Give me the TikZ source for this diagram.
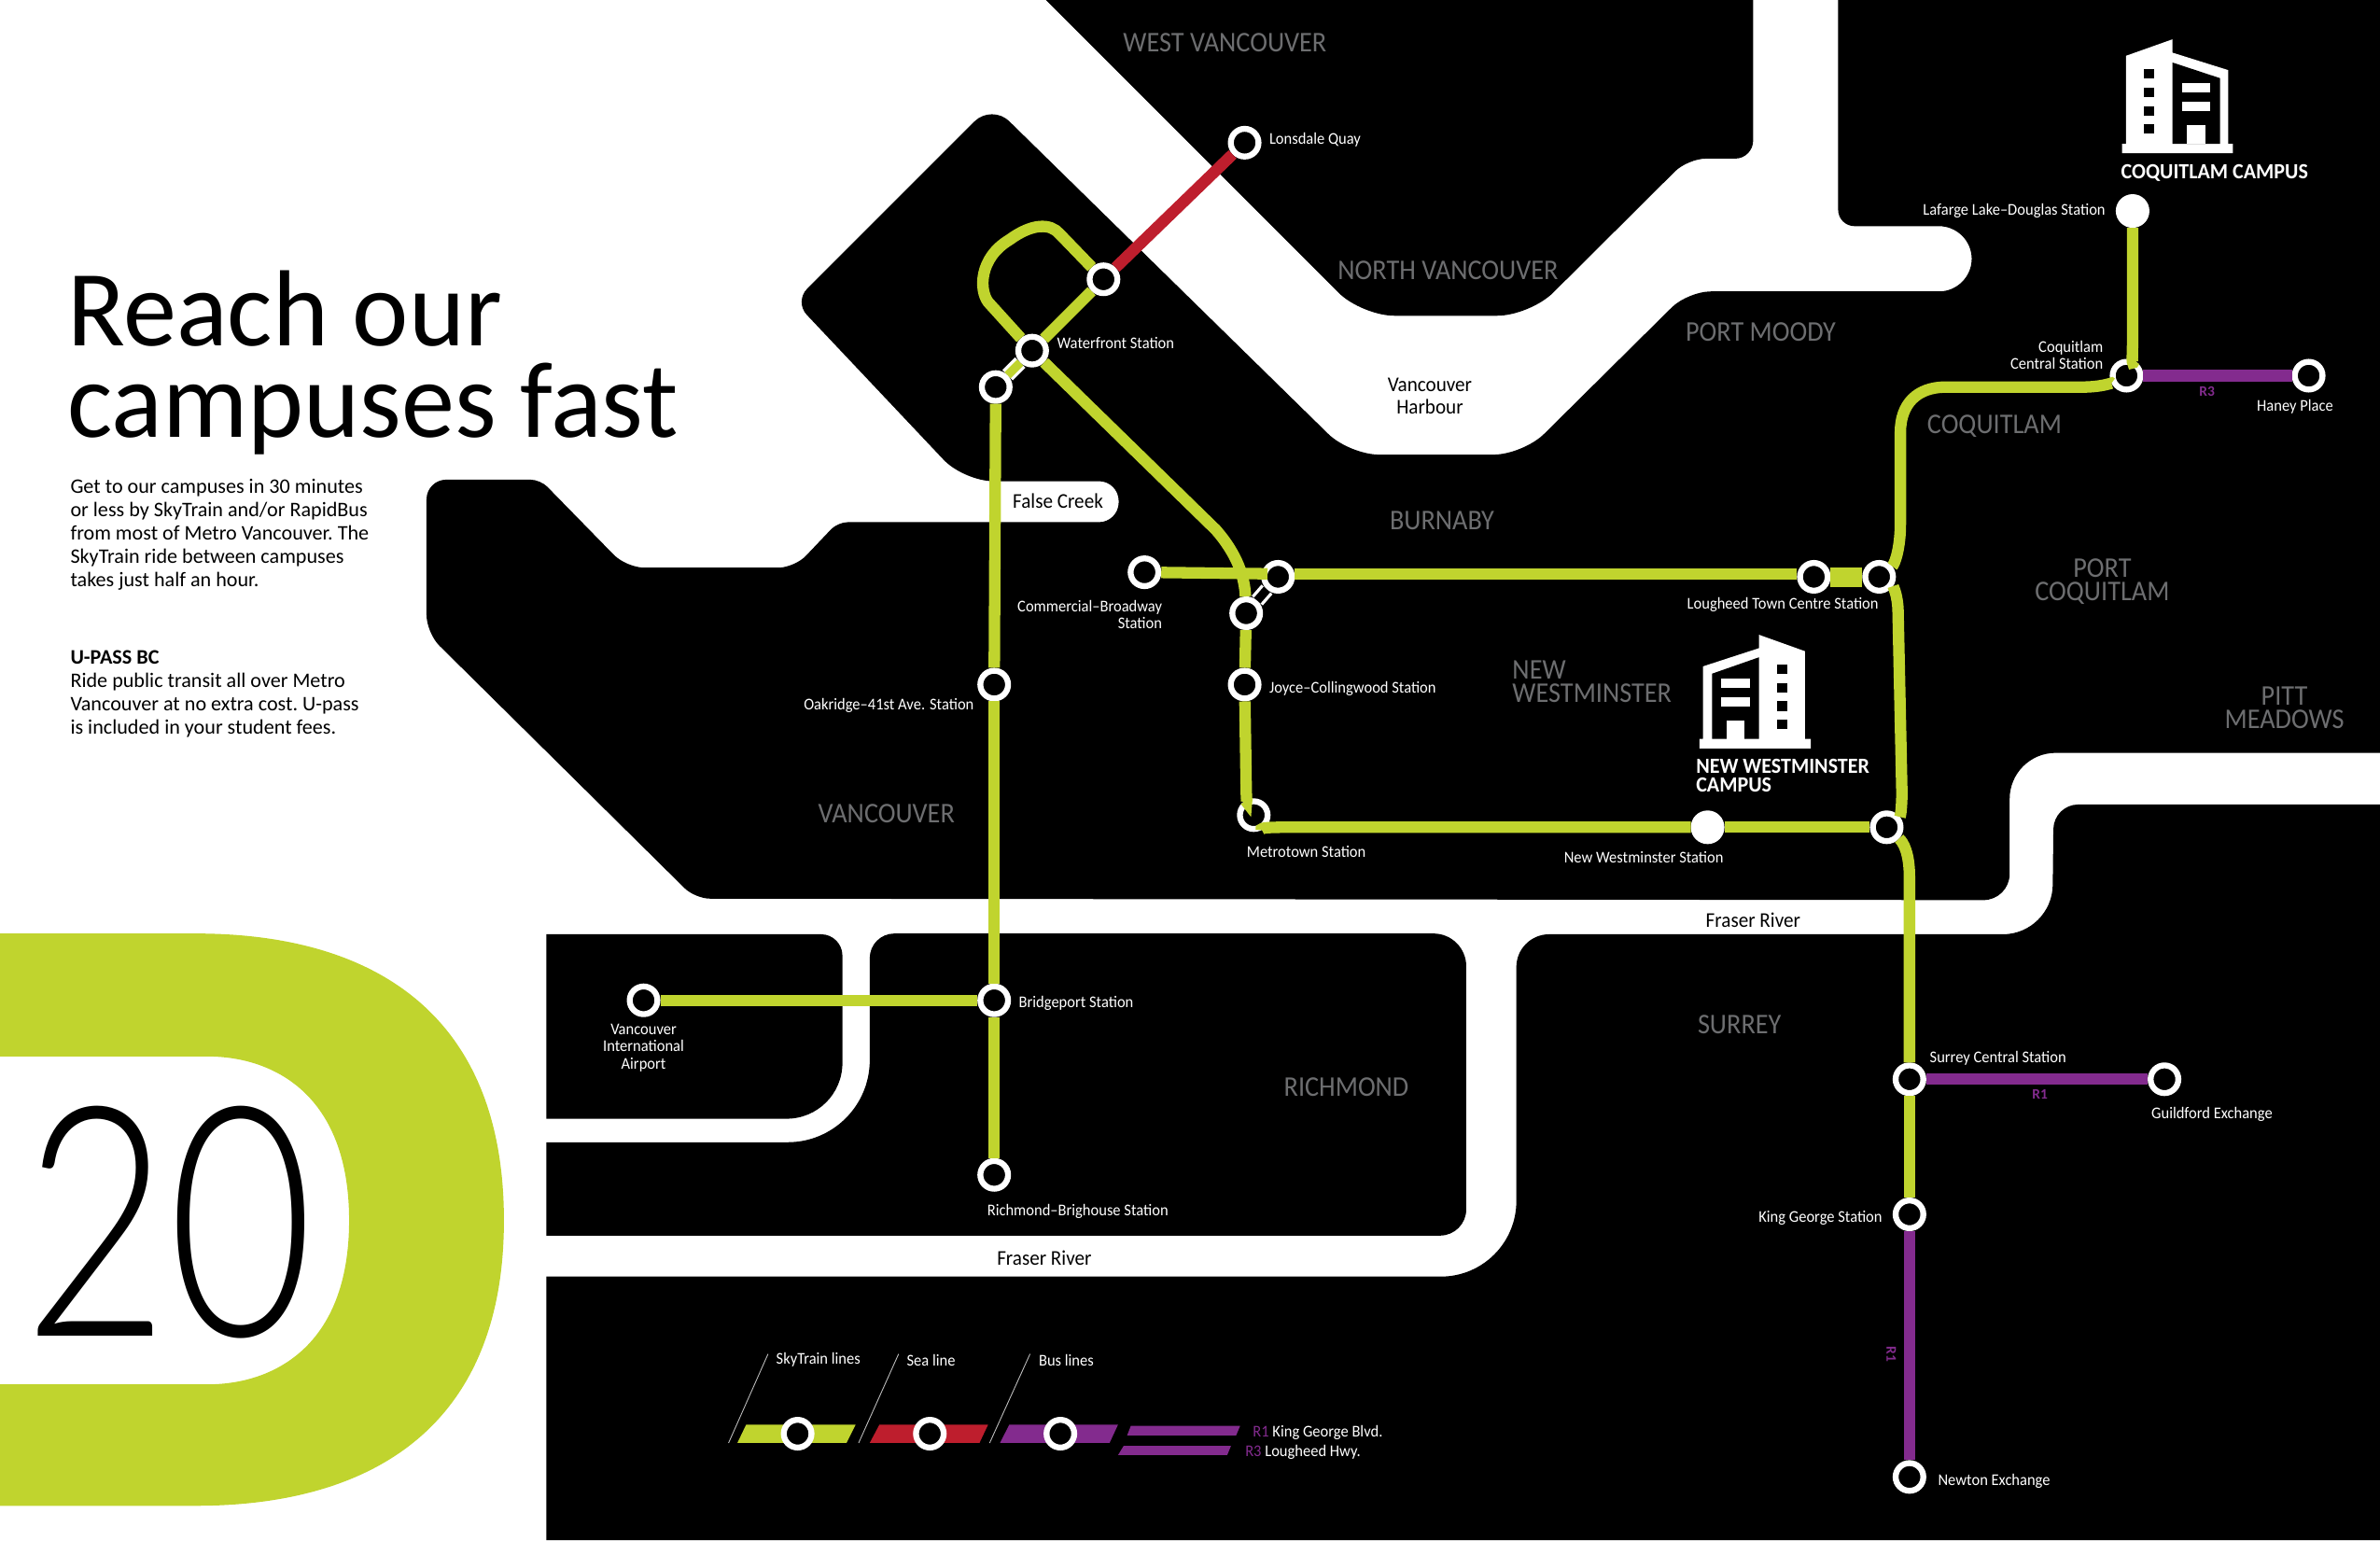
\documentclass[tikz,border=0pt]{standalone}
\usepackage{fontspec}
\setmainfont{Carlito}
\newfontfamily\labelfont[FakeStretch=.94]{Carlito}
\newfontfamily\districtfont[FakeStretch=.925]{Carlito}
\newfontfamily\campusfont[FakeStretch=.95]{Carlito}
\newfontfamily\titlefont[FakeStretch=.985]{Carlito}
\newfontfamily\numberfont[FakeStretch=.78]{Lato Light}
\usetikzlibrary{positioning}
\definecolor{limeline}{RGB}{192,212,46}
\definecolor{redline}{RGB}{190,30,45}
\definecolor{purpleline}{RGB}{131,43,142}
\definecolor{districtgrey}{RGB}{109,110,112}
\tikzset{
        station/.style = {draw=white, fill=black, circle, line width=1.8pt,
            minimum size=8.45pt, inner sep=0pt},
        solidstation/.style = {station, fill=white},
        skyline/.style = {draw=limeline, line width=3.5pt},
        sealine/.style = {draw=redline, line width=3.5pt},
        busline/.style = {draw=purpleline, line width=3.5pt},
        transfergreen/.style = {draw=white, double=limeline, line width=.95pt, double distance=2.6pt},
        transferblack/.style = {draw=white, double=black, line width=.95pt, double distance=2.6pt},
        land/.style = {fill=black},
        stationlabel/.style = {text=white, inner sep=0pt, align=left, font=\labelfont\fontsize{5}{5.3}\selectfont},
        district/.style = {text=districtgrey, inner sep=0pt, align=center, font=\districtfont\fontsize{8.7}{7.1}\selectfont},
        water/.style = {text=black, inner sep=0pt, align=center, font=\labelfont\fontsize{6.4}{7}\selectfont},
        routetag/.style = {text=purpleline, inner sep=0pt, font=\bfseries\fontsize{4.4}{5}\selectfont},
        campus/.style = {text=white, inner sep=0pt, align=left, font=\campusfont\bfseries\fontsize{6.6}{5.9}\selectfont},
        body/.style = {text=black, inner sep=0pt, align=left, font=\frenchspacing\fontsize{6.3}{7.1}\selectfont},
        legendline/.style = {draw=white!75!black, line width=.25pt},
    }
\begin{document}
\begin{tikzpicture}[x=.0162628cm,y=-.0162628cm]
        \path[use as bounding box] (0,0) rectangle (1568,1014.6);

        % the land
        \fill[land] (689,0) [rounded corners=10pt] -- (897,208) -- (1008,208)
            [rounded corners=5.5pt] -- (1112,104.5) -- (1155,104.5) [sharp corners] -- (1155,0) -- cycle;
        \fill[land] (1211,0) [rounded corners=5pt] -- (1211,149)
            [rounded corners=10pt] -- (1299,149) -- (1299,192)
            [rounded corners=7pt] -- (1112,192)
            [rounded corners=9pt] -- (1003.5,299.5) -- (889,299.5)
            [rounded corners=7.5pt] -- (653.4,68.6)
            [rounded corners=5.5pt] -- (523.3,198.7)
            [rounded corners=9pt] -- (635,317)
            [rounded corners=6pt] -- (737,317) -- (737,344)
            [rounded corners=3pt] -- (552,344)
            [rounded corners=5pt] -- (523.5,374)
            [rounded corners=5.5pt] -- (412.7,374)
            [rounded corners=3pt] -- (356,316)
            [rounded corners=6pt] -- (281,316)
            [rounded corners=5.5pt] -- (281,417)
            [rounded corners=4.5pt] -- (458,592)
            [rounded corners=8pt] -- (1324,593)
            [rounded corners=14pt] -- (1324,496)
            [sharp corners] -- (1568,496) -- (1568,0) -- cycle;
        \fill[land] (360,615.5) [rounded corners=6.5pt] -- (555,615.5)
            [rounded corners=17pt] -- (555,737) [sharp corners] -- (360,737) -- cycle;
        \fill[land] (360,752.5) [rounded corners=25pt] -- (573,752.5)
            [rounded corners=7.5pt] -- (573,615)
            [rounded corners=10pt] -- (966,615)
            [rounded corners=8pt] -- (966,814) [sharp corners] -- (360,814) -- cycle;
        \fill[land] (360,841) [rounded corners=23pt] -- (999,841)
            [rounded corners=10pt] -- (999,615.5)
            [rounded corners=15pt] -- (1352,615.5)
            [rounded corners=7.5pt] -- (1353,530)
            [sharp corners] -- (1568,530) -- (1568,1014.6) -- (360,1014.6) -- cycle;

        % the green band
        \fill[limeline] (0,615) -- (129,615) .. controls (245,615) and (332,667) .. (332,804)
            .. controls (332,940) and (245,992) .. (129,992) -- (0,992) -- (0,912) -- (137,912)
            .. controls (179,912) and (230,888) .. (230,804)
            .. controls (230,720) and (179,696) .. (137,696) -- (0,696) -- cycle;
        \node[text=black, inner sep=0pt, anchor=base west, font=\numberfont\fontsize{98}{98}\selectfont] (bignumber) at (15,880) {20};

        % stations
        \node[station] (lonsdale) at (820,94) {};
        \node[station] (seabus) at (727,184) {};
        \node[station] (waterfront) at (680,231) {};
        \node[station] (canadanorth) at (656,255) {};
        \node[station] (oakridge) at (655,451) {};
        \node[station] (bridgeport) at (655,659) {};
        \node[station] (brighouse) at (655,774) {};
        \node[station] (airport) at (424,659) {};
        \node[station] (commercial) at (754,377) {};
        \node[station] (broadway) at (842,380) {};
        \node[station] (expobroadway) at (821,404) {};
        \node[station] (joyce) at (820,451) {};
        \node[station] (metrotown) at (826,537) {};
        \node[solidstation] (newwest) at (1125,545) {};
        \node[station] (columbia) at (1243,545) {};
        \node[station] (lougheed) at (1195,380) {};
        \node[station] (production) at (1238,380) {};
        \node[station] (coquitlam) at (1401,247.5) {};
        \node[solidstation] (lafarge) at (1405,139) {};
        \node[station] (haney) at (1521,247.5) {};
        \node[station] (surrey) at (1258,711) {};
        \node[station] (guildford) at (1426,711) {};
        \node[station] (kinggeorge) at (1258,800) {};
        \node[station] (newton) at (1258,973) {};
        \coordinate (commercialend) at (835,378);

        % the lines
        \draw[sealine] (seabus) -- (lonsdale);
        \draw[skyline] (waterfront) -- (seabus);
        \draw[skyline] (waterfront) -- (651,199) .. controls (645,191) and (645,170) .. (665,158)
            .. controls (680,147) and (692,147) .. (698,154) -- (seabus);
        \draw[transfergreen] (canadanorth) -- (waterfront);
        \draw[skyline] (canadanorth) -- (oakridge);
        \draw[skyline] (oakridge) -- (bridgeport);
        \draw[skyline] (bridgeport) -- (brighouse);
        \draw[skyline] (airport) -- (bridgeport);
        \draw[skyline] (waterfront) -- (801,349) .. controls (815,365) and (820,380) .. (expobroadway);
        \draw[skyline] (commercial) -- (commercialend);
        \draw[transferblack] (expobroadway) -- (broadway);
        \draw[skyline] (expobroadway) -- (joyce);
        \draw[skyline] (joyce) -- (821,518) .. controls (821,527) and (822,530) .. (metrotown);
        \draw[skyline] (metrotown) .. controls (830,545) and (838,545) .. (850,545) -- (newwest);
        \draw[skyline] (newwest) -- (columbia);
        \draw[skyline] ([yshift=.9pt]broadway.east) -- ([yshift=.9pt]lougheed.west);
        \draw[skyline] ([yshift=1pt]lougheed.east) -- ([yshift=1pt]production.west);
        \draw[skyline] ([yshift=-1.4pt]lougheed.east) -- ([yshift=-1.4pt]production.west);
        \draw[skyline] (production) .. controls (1248,372) and (1252,362) .. (1252,345) -- (1252,285)
            .. controls (1252,266) and (1263,255) .. (1282,255) -- (1372,255)
            .. controls (1385,255) and (1392,252) .. (coquitlam);
        \draw[skyline] (coquitlam) .. controls (1404,242) and (1405,235) .. (1405,225) -- (lafarge);
        \draw[busline] (coquitlam) -- (haney);
        \draw[skyline] (production) .. controls (1247,386) and (1250.5,392) .. (1250.5,404) -- (1253,522)
            .. controls (1253,532) and (1252,538) .. (columbia);
        \draw[skyline] (columbia) .. controls (1254,555) and (1258,562) .. (1258,578) -- (surrey);
        \draw[busline] (surrey) -- (guildford);
        \draw[skyline] (surrey) -- (kinggeorge);
        \draw[busline] (kinggeorge) -- (newton);

        % station labels
        \node[stationlabel, right=2.2pt of lonsdale, yshift=1pt] (lonsdalelabel) {Lonsdale Quay};
        \node[stationlabel, anchor=west] (waterfrontlabel) at (696,226) {Waterfront Station};
        \node[stationlabel, align=right, anchor=east] (commerciallabel) at (766,405) {Commercial–Broadway\\Station};
        \node[stationlabel, anchor=east] (oakridgelabel) at (642,465) {Oakridge–41st Ave. Station};
        \node[stationlabel, right=2.2pt of joyce, yshift=-1.2pt] (joycelabel) {Joyce–Collingwood Station};
        \node[stationlabel, anchor=west] (metrotownlabel) at (821,561) {Metrotown Station};
        \node[stationlabel, anchor=west] (newwestlabel) at (1030,565) {New Westminster Station};
        \node[stationlabel, anchor=east] (lougheedlabel) at (1238,398.5) {Lougheed Town Centre Station};
        \node[stationlabel, left=3pt of lafarge] (lafargelabel) {Lafarge Lake–Douglas Station};
        \node[stationlabel, align=right, anchor=east] (coquitlamlabel) at (1386,234) {Coquitlam\\Central Station};
        \node[stationlabel, anchor=center] (haneylabel) at (1512,268) {Haney Place};
        \node[stationlabel, right=2.2pt of bridgeport, yshift=-.9pt] (bridgeportlabel) {Bridgeport Station};
        \node[stationlabel, align=center, anchor=north] (airportlabel) at (424,674) {Vancouver\\International\\Airport};
        \node[stationlabel, anchor=west] (brighouselabel) at (650,798) {Richmond–Brighouse Station};
        \node[stationlabel, anchor=west] (surreylabel) at (1271,697) {Surrey Central Station};
        \node[stationlabel, anchor=west] (guildfordlabel) at (1417,734) {Guildford Exchange};
        \node[stationlabel, left=3pt of kinggeorge, yshift=-1pt] (kinggeorgelabel) {King George Station};
        \node[stationlabel, right=3.4pt of newton, yshift=-1.4pt] (newtonlabel) {Newton Exchange};
        \node[routetag] (routethree) at (1454,258) {R3};
        \node[routetag] (routeone) at (1344,721) {R1};
        \node[routetag, rotate=-90] (routeonesouth) at (1246,892) {R1};

        % districts and water
        \node[district] (westvan) at (807,28) {WEST VANCOUVER};
        \node[district] (northvan) at (954,178) {NORTH VANCOUVER};
        \node[district] (portmoody) at (1160,219) {PORT MOODY};
        \node[district] (coquitlamcity) at (1314,281) {COQUITLAM};
        \node[district] (burnaby) at (950,343) {BURNABY};
        \node[district] (portcoquitlam) at (1385,383) {PORT\\COQUITLAM};
        \node[district] (pitt) at (1505,466) {PITT\\MEADOWS};
        \node[district, align=left, anchor=west] (newwestcity) at (996,449) {NEW\\WESTMINSTER};
        \node[district] (vancouvercity) at (584,536) {VANCOUVER};
        \node[district] (surreycity) at (1146,675) {SURREY};
        \node[district] (richmond) at (887,716) {RICHMOND};
        \node[water] (harbour) at (942,261) {Vancouver\\Harbour};
        \node[water] (falsecreek) at (697,330) {False Creek};
        \node[water] (fraserone) at (1155,606) {Fraser River};
        \node[water] (frasertwo) at (688,829) {Fraser River};

        % campus buildings
        \fill[white] (1398,94.7) -- (1400.6,94.7) -- (1400.6,36.8) -- (1431.3,25.9) -- (1431.3,34.7)
            -- (1468,46.2) -- (1468,94.7) -- (1471,94.7) -- (1471,101) -- (1398,101) -- cycle;
        \fill[black] (1431.3,41.2) -- (1462.6,51.5) -- (1462.6,94.7) -- (1431.3,94.7) -- cycle;
        \fill[white] (1441,82.4) rectangle (1453.3,94.7);
        \fill[white] (1437.6,54.7) rectangle (1456,60.9);
        \fill[white] (1437.6,67) rectangle (1456,73.3);
        \foreach \winy in {45.6,58,70,82}
            \fill[black] (1412.6,\winy) rectangle (1419.3,\winy+6.2);
        \node[campus, anchor=west] (coquitlamcampus) at (1397,114) {COQUITLAM CAMPUS};

        \fill[white] (1119.7,486.8) -- (1122,486.8) -- (1122,439) -- (1158.9,427) -- (1158.9,418.2)
            -- (1189.1,429) -- (1189.1,486.8) -- (1193,486.8) -- (1193,493) -- (1119.7,493) -- cycle;
        \fill[black] (1158.9,433) -- (1128,443.8) -- (1128,486.8) -- (1158.9,486.8) -- cycle;
        \fill[white] (1137.7,474.5) rectangle (1149.5,486.8);
        \fill[white] (1133.8,447) rectangle (1153,453.4);
        \fill[white] (1133.8,459.2) rectangle (1153,465.5);
        \foreach \winy in {437.8,450,462,474}
            \fill[black] (1170.7,\winy) rectangle (1177.7,\winy+6.3);
        \node[campus, anchor=west] (newwestcampus) at (1117,511) {NEW WESTMINSTER\\CAMPUS};

        % the legend
        \fill[limeline] (491.6,938.5) -- (563.7,938.5) -- (557.7,950.6) -- (485.8,950.6) -- cycle;
        \fill[redline] (579.4,938.5) -- (651,938.5) -- (645.3,950.6) -- (573,950.6) -- cycle;
        \fill[purpleline] (665,938.5) -- (736.6,938.5) -- (731,950.6) -- (658.8,950.6) -- cycle;
        \fill[purpleline] (745,939.4) -- (817,939.4) -- (814.4,945.6) -- (742.6,945.6) -- cycle;
        \fill[purpleline] (740.3,952.5) -- (811,952.5) -- (808.5,958.6) -- (736.6,958.6) -- cycle;
        \node[station] (legendsky) at (525.5,944.5) {};
        \node[station] (legendsea) at (612.6,944.5) {};
        \node[station] (legendbus) at (698.6,944.5) {};
        \coordinate (skytop) at (506,892);
        \coordinate (seatop) at (592,892);
        \coordinate (bustop) at (678.6,892);
        \draw[legendline] (skytop) -- (480,950.6);
        \draw[legendline] (seatop) -- (565.7,950.6);
        \draw[legendline] (bustop) -- (652,950.6);
        \node[stationlabel, anchor=west] (skylabel) at (511,896) {SkyTrain lines};
        \node[stationlabel, anchor=west] (sealabel) at (597,896) {Sea line};
        \node[stationlabel, anchor=west] (buslabel) at (684,896) {Bus lines};
        \node[stationlabel, anchor=west] (kinglabel) at (825,944) {\textcolor{purpleline}{R1} King George Blvd.};
        \node[stationlabel, anchor=west] (highwaylabel) at (820,957) {\textcolor{purpleline}{R3} Lougheed Hwy.};

        % the left column
        \node[text=black, inner sep=0pt, align=left, anchor=west, font=\titlefont\fontsize{33}{28}\selectfont] (title) at (44,239) {Reach our\\campuses fast};
        \node[body, anchor=north west] (intro) at (46,315) {Get to our campuses in 30 minutes\\or less by SkyTrain and/or RapidBus\\from most of Metro Vancouver. The\\SkyTrain ride between campuses\\takes just half an hour.};
        \node[body, anchor=north west] (upass) at (46,428) {\textbf{U-PASS BC}\\Ride public transit all over Metro\\Vancouver at no extra cost. U-pass\\is included in your student fees.};
\end{tikzpicture}
\end{document}
